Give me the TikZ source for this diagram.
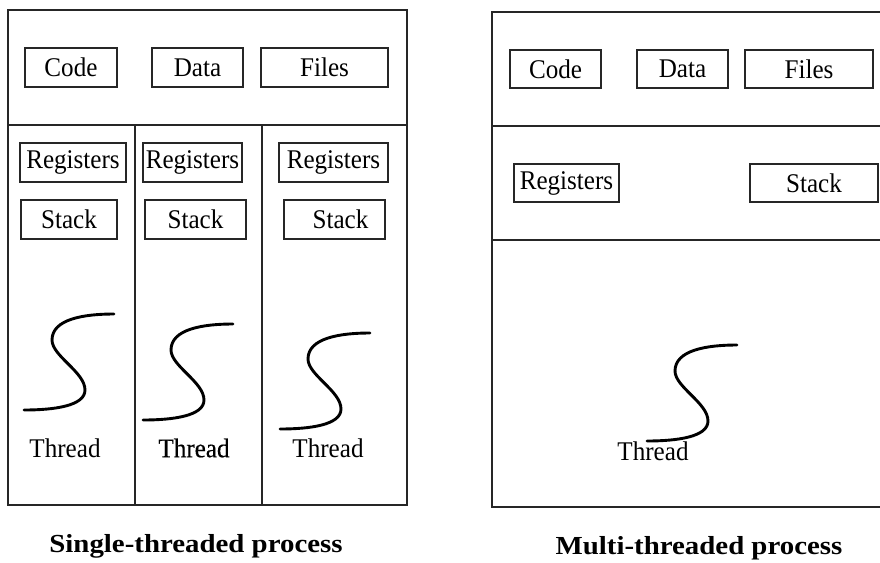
\documentclass[tikz,border=0pt]{standalone}
\usepackage{graphicx}
\usepackage{fontspec}
\setmainfont{Liberation Serif}
\newfontfamily\heavyfont[FakeBold=0.35]{Liberation Serif}
% narrowed body text and widened captions
\newcommand\sq[1]{\scalebox{0.93}[1]{#1}}
\newcommand\wide[1]{\scalebox{1.11}[1]{#1}}
\begin{document}
\begin{tikzpicture}[x=1pt,y=-1pt,
  frame/.style={draw=black!85,line width=1.4pt},
  box/.style={draw=black!85,line width=1.4pt,inner sep=0pt,
    font=\fontsize{27}{30}\selectfont},
  lbl/.style={inner sep=0pt,font=\fontsize{27}{30}\selectfont},
  caption/.style={inner sep=0pt,font=\fontsize{26}{30}\selectfont\bfseries},
  thr/.style={line width=2.9pt,line cap=round},
  sthread/.pic={\draw[thr] (0,0) .. controls (-30,0) and (-62,5) .. (-62,26)
      .. controls (-62,42) and (-29,58) .. (-29,76)
      .. controls (-29,92) and (-60,96) .. (-90,96);}]
\useasboundingbox (0,0) rectangle (880,562);
\clip (0,0) rectangle (880,562);
\fill[white] (0,0) rectangle (880,562);

% ---- single-threaded process ----
\node[frame,inner sep=0pt,minimum width=399pt,minimum height=495pt] (proc1) at (207.5,257.5) {};
\coordinate (h1l) at (8,125);   \coordinate (h1r) at (407,125);
\coordinate (v1t) at (135,125); \coordinate (v1b) at (135,505);
\coordinate (v2t) at (262,125); \coordinate (v2b) at (262,505);
\draw[frame] (h1l) -- (h1r);
\draw[frame] (v1t) -- (v1b);
\draw[frame] (v2t) -- (v2b);

\node[box,minimum width=92pt,minimum height=39pt]  (code1) at (71,67.5) {\sq{Code}};
\node[box,minimum width=91pt,minimum height=39pt]  (data1) at (197.5,67.5) {\sq{Data}};
\node[box,minimum width=127pt,minimum height=39pt] (files1) at (324.5,67.5) {\sq{Files}};

\node[box,minimum width=106pt,minimum height=39pt] (reg1a) at (73,162.5) {\sq{Registers}};
\node[box,minimum width=99pt,minimum height=39pt]  (reg1b) at (192.5,162.5) {\sq{Registers}};
\node[box,minimum width=109pt,minimum height=39pt] (reg1c) at (333.5,162.5) {\sq{Registers}};
\node[box,minimum width=96pt,minimum height=39pt]  (stk1a) at (69,219.5) {\sq{Stack}};
\node[box,minimum width=101pt,minimum height=39pt] (stk1b) at (195.5,219.5) {\sq{Stack}};
\node[box,minimum width=101pt,minimum height=39pt,text width=101pt,align=center] (stk1c) at (334.5,219.5) {\hspace*{12pt}\sq{Stack}};

\pic at (114,314) {sthread};
\pic at (233,324) {sthread};
\pic at (370,333) {sthread};
\node[lbl] (t1a) at (65,448) {\sq{Thread}};
\node[lbl] (t1b) at (194,448) {\heavyfont\sq{Thread}};
\node[lbl] (t1c) at (328,448) {\sq{Thread}};

\node[caption] (cap1) at (196,546) {\wide{Single-threaded process}};

% ---- multi-threaded process ----
\node[frame,inner sep=0pt,minimum width=400pt,minimum height=495pt] (proc2) at (692,259.5) {};
\coordinate (h2l) at (492,126); \coordinate (h2r) at (892,126);
\coordinate (h3l) at (492,240); \coordinate (h3r) at (892,240);
\draw[frame] (h2l) -- (h2r);
\draw[frame] (h3l) -- (h3r);

\node[box,minimum width=91pt,minimum height=38pt]  (code2) at (555.5,69) {\sq{Code}};
\node[box,minimum width=91pt,minimum height=38pt]  (data2) at (682.5,69) {\sq{Data}};
\node[box,minimum width=128pt,minimum height=38pt] (files2) at (809,69) {\sq{Files}};
\node[box,minimum width=105pt,minimum height=38pt] (reg2) at (566.5,183) {\sq{Registers}};
\node[box,minimum width=128pt,minimum height=38pt] (stk2) at (814,183) {\sq{Stack}};

\pic at (737,345) {sthread};
\node[lbl] (t2) at (653,451) {\sq{Thread}};

\node[caption] (cap2) at (699,548) {\wide{Multi-threaded process}};
\end{tikzpicture}
\end{document}
